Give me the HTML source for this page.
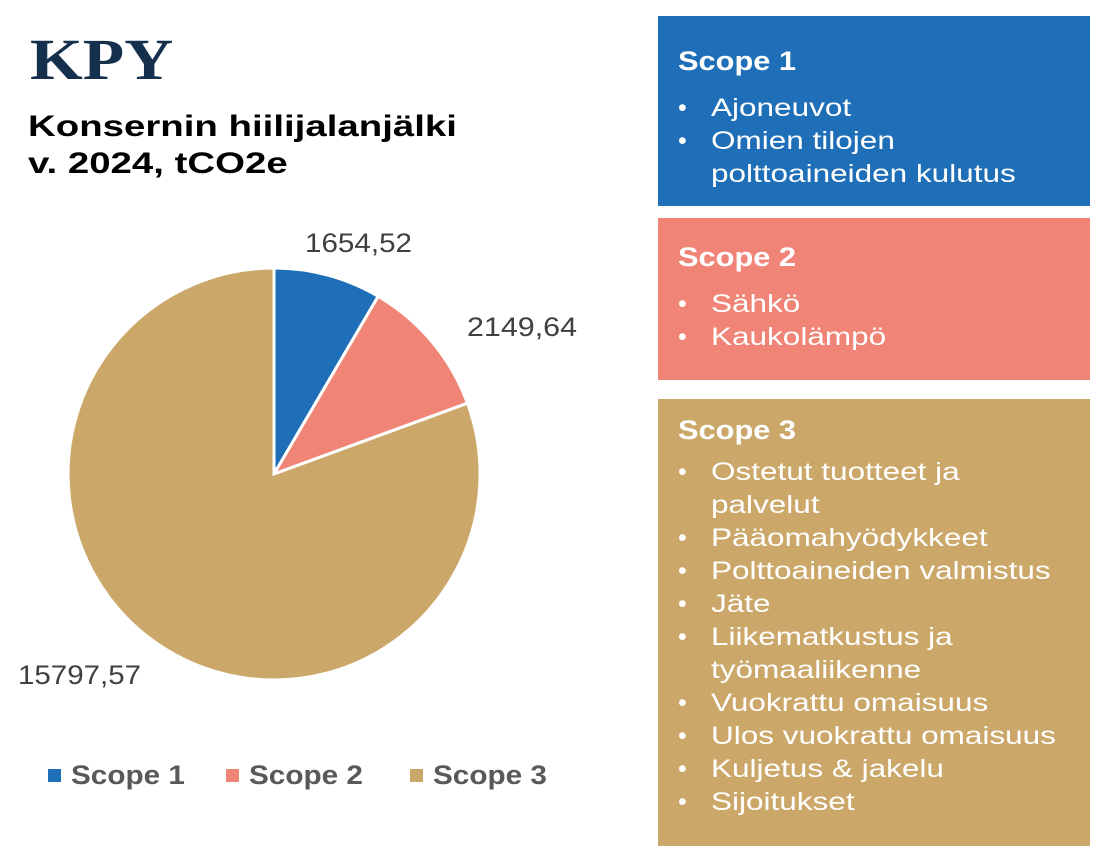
<!DOCTYPE html>
<html><head><meta charset="utf-8"><style>
body{margin:0;width:1110px;height:868px;background:#fff;position:relative;font-family:"Liberation Sans",sans-serif;overflow:hidden}
.a{position:absolute}
.s{display:inline-block;transform-origin:left center;white-space:nowrap}
.box{position:absolute;left:658px;width:432px;color:#fff}
.box h3{margin:0;font-size:27px;font-weight:bold;position:absolute;left:20px;transform:scaleX(1.14);transform-origin:left}
.box ul{position:absolute;left:20px;margin:0;padding:0;list-style:none;font-size:25px;line-height:33px}
.box li{padding-left:33px;position:relative;white-space:nowrap}
.box li:before{content:"•";position:absolute;left:0}
.box li span{display:inline-block;transform:scaleX(1.26);transform-origin:left}
.lg{position:absolute;top:760px;font-size:27px;font-weight:bold;color:#595959}
.lg i{display:inline-block;width:13px;height:13px;margin-right:10px;vertical-align:2px}
.lg b{display:inline-block;transform:scaleX(1.1);transform-origin:left}
</style></head><body>
<div class="a s" style="left:30px;top:26px;font-family:'Liberation Serif',serif;font-size:58px;font-weight:bold;color:#14304d;transform:scaleX(1.17)">KPY</div>
<div class="a s" style="left:28px;top:108px;font-size:30px;font-weight:bold;line-height:37px;color:#000;transform:scaleX(1.28)">Konsernin hiilijalanjälki<br>v. 2024, tCO2e</div>
<svg class="a" style="left:0;top:0" width="640" height="868">
<path d="M274,474 L274,268 A206,206 0 0 1 378.2,296.3 Z" fill="#1f6fb8" stroke="#fff" stroke-width="3"/>
<path d="M274,474 L378.2,296.3 A206,206 0 0 1 467.5,403.2 Z" fill="#f08577" stroke="#fff" stroke-width="3"/>
<path d="M274,474 L467.5,403.2 A206,206 0 1 1 274,268 Z" fill="#cba86a" stroke="#fff" stroke-width="3"/>
<g font-size="27" fill="#404040" font-family="Liberation Sans, sans-serif">
<text x="305" y="252" textLength="107" lengthAdjust="spacingAndGlyphs">1654,52</text>
<text x="467" y="336" textLength="110" lengthAdjust="spacingAndGlyphs">2149,64</text>
<text x="18" y="684" textLength="123" lengthAdjust="spacingAndGlyphs">15797,57</text>
</g></svg>
<div class="lg" style="left:48px"><i style="background:#1f6fb8"></i><b>Scope 1</b></div>
<div class="lg" style="left:226px"><i style="background:#f08577"></i><b>Scope 2</b></div>
<div class="lg" style="left:410px"><i style="background:#cba86a"></i><b>Scope 3</b></div>
<div class="box" style="top:16px;height:190px;background:#1f6fb8"><h3 style="top:30px">Scope 1</h3>
<ul style="top:76px"><li><span>Ajoneuvot</span></li><li><span>Omien tilojen<br>polttoaineiden kulutus</span></li></ul></div>
<div class="box" style="top:218px;height:162px;background:#f08577"><h3 style="top:24px">Scope 2</h3>
<ul style="top:70px"><li><span>Sähkö</span></li><li><span>Kaukolämpö</span></li></ul></div>
<div class="box" style="top:399px;height:447px;background:#cba86a"><h3 style="top:16px">Scope 3</h3>
<ul style="top:57px"><li><span>Ostetut tuotteet ja<br>palvelut</span></li><li><span>Pääomahyödykkeet</span></li><li><span>Polttoaineiden valmistus</span></li><li><span>Jäte</span></li><li><span>Liikematkustus ja<br>työmaaliikenne</span></li><li><span>Vuokrattu omaisuus</span></li><li><span>Ulos vuokrattu omaisuus</span></li><li><span>Kuljetus &amp; jakelu</span></li><li><span>Sijoitukset</span></li></ul></div>
</body></html>
